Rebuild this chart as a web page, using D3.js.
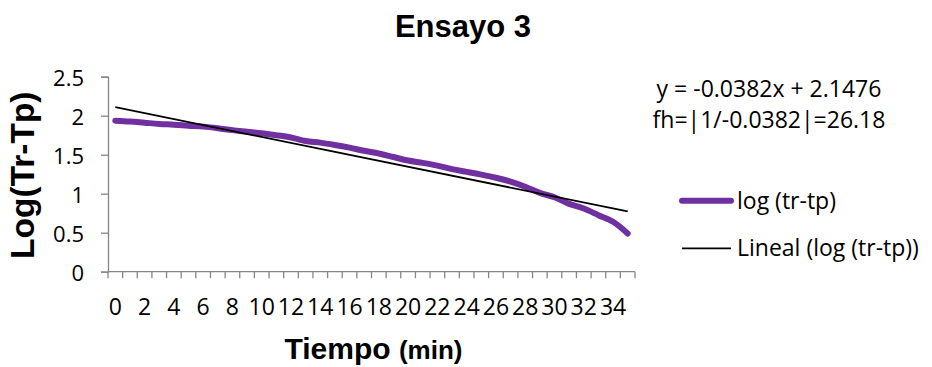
<!DOCTYPE html>
<html>
<head>
<meta charset="utf-8">
<script src="https://cdn.jsdelivr.net/npm/d3@7"></script>
<style>
  html, body { margin: 0; padding: 0; background: #fff; }
  svg { display: block; }
</style>
</head>
<body>
<svg id="chart" width="932" height="367"></svg>
<script>
// Minutes (category axis) and measured log(Tr - Tp)
const minutes = d3.range(0, 36);
const logValues = [
  1.936, 1.925, 1.91, 1.895, 1.885, 1.872, 1.86, 1.84, 1.815, 1.795,
  1.775, 1.75, 1.72, 1.675, 1.655, 1.625, 1.59, 1.55, 1.515, 1.47,
  1.425, 1.395, 1.36, 1.315, 1.28, 1.245, 1.205, 1.155, 1.09, 1.01,
  0.955, 0.87, 0.81, 0.725, 0.64, 0.49
];
// Linear trend fitted on the point index (1-based)
const slope = -0.0382;
const intercept = 2.1476;
const yTicks = [0, 0.5, 1, 1.5, 2, 2.5];
const xTickLabels = d3.range(0, 36, 2);

const titleText = "Ensayo 3";
const yTitle = "Log(Tr-Tp)";
const xTitleMain = "Tiempo";
const xTitleUnit = "(min)";
const equationLines = ["y = -0.0382x + 2.1476", "fh=|1/-0.0382|=26.18"];
const legendItems = ["log (tr-tp)", "Lineal (log (tr-tp))"];

const svg = d3.select("#chart");
const plot = { left: 108, right: 635, top: 76.7, bottom: 271.7 };
const axisColor = "#868686";
const purple = "#7030A0";
const bodyFont = "'Open Sans', sans-serif";
const boldFont = "'Liberation Sans', Arial, sans-serif";

const x = d3.scaleBand().domain(minutes).range([plot.left, plot.right]).padding(0);
const y = d3.scaleLinear().domain([0, 2.5]).range([plot.bottom, plot.top]);
const cx = i => x(i) + x.bandwidth() / 2;

// Title
svg.append("text")
  .attr("x", 463).attr("y", 37)
  .attr("text-anchor", "middle")
  .attr("font-family", boldFont).attr("font-weight", "bold")
  .attr("font-size", 31).attr("fill", "#000")
  .text(titleText);

// Y axis
const yAxis = d3.axisLeft(y).tickValues(yTicks).tickSize(7).tickPadding(17)
  .tickFormat(d => String(d));
const gy = svg.append("g").attr("transform", `translate(${plot.left},0)`).call(yAxis);
gy.select(".domain").attr("stroke", axisColor).attr("stroke-width", 1.3);
gy.selectAll(".tick line").attr("stroke", axisColor).attr("stroke-width", 1.3);
gy.selectAll(".tick text")
  .attr("font-family", bodyFont).attr("font-size", 22).attr("fill", "#000")
  .attr("dy", "0.42em");

// X axis: tick marks at category boundaries, labels every second category
const gx = svg.append("g").attr("transform", `translate(0,${plot.bottom})`);
gx.append("line")
  .attr("x1", plot.left).attr("x2", plot.right)
  .attr("stroke", axisColor).attr("stroke-width", 1.3);
const boundaries = minutes.map(d => x(d)).concat([plot.right]);
gx.selectAll("line.tk").data(boundaries).join("line")
  .attr("class", "tk")
  .attr("x1", d => d).attr("x2", d => d)
  .attr("y1", 0).attr("y2", 6.5)
  .attr("stroke", axisColor).attr("stroke-width", 1.3);
gx.selectAll("text").data(xTickLabels).join("text")
  .attr("x", d => cx(d)).attr("y", 43)
  .attr("text-anchor", "middle")
  .attr("font-family", bodyFont).attr("font-size", 23).attr("fill", "#000")
  .text(d => d);

// Axis titles
svg.append("text")
  .attr("transform", `translate(34,${(plot.top + plot.bottom) / 2 + 1}) rotate(-90)`)
  .attr("text-anchor", "middle")
  .attr("font-family", boldFont).attr("font-weight", "bold")
  .attr("font-size", 33.5).attr("fill", "#000")
  .text(yTitle);

const xt = svg.append("text")
  .attr("x", (plot.left + plot.right) / 2 + 2).attr("y", 359)
  .attr("text-anchor", "middle")
  .attr("font-family", boldFont).attr("font-weight", "bold").attr("fill", "#000");
xt.append("tspan").attr("font-size", 30).text(xTitleMain + " ");
xt.append("tspan").attr("font-size", 26).text(xTitleUnit);

// Data series
const line = d3.line()
  .x((d, i) => cx(minutes[i]))
  .y(d => y(d))
  .curve(d3.curveCatmullRom.alpha(0.5));
svg.append("path")
  .datum(logValues)
  .attr("d", line)
  .attr("fill", "none")
  .attr("stroke", purple).attr("stroke-width", 6)
  .attr("stroke-linecap", "round").attr("stroke-linejoin", "round");

// Linear trendline
const first = minutes[0], last = minutes[minutes.length - 1];
const trend = [first, last].map(m => ({ m, v: slope * (minutes.indexOf(m) + 1) + intercept }));
svg.append("path")
  .datum(trend)
  .attr("d", d3.line().x(d => cx(d.m)).y(d => y(d.v)))
  .attr("fill", "none").attr("stroke", "#000").attr("stroke-width", 1.8);

// Equation label
svg.selectAll("text.eq").data(equationLines).join("text")
  .attr("class", "eq")
  .attr("x", 769).attr("y", (d, i) => 97 + i * 31)
  .attr("text-anchor", "middle")
  .attr("font-family", bodyFont).attr("font-size", 23).attr("fill", "#000")
  .text(d => d);

// Legend
const legend = svg.append("g");
const legendY = [200.7, 248.3];
legendItems.forEach((label, i) => {
  legend.append("line")
    .attr("x1", 682).attr("x2", 731)
    .attr("y1", legendY[i]).attr("y2", legendY[i])
    .attr("stroke", i === 0 ? purple : "#000")
    .attr("stroke-width", i === 0 ? 6 : 1.8)
    .attr("stroke-linecap", i === 0 ? "round" : "butt");
  legend.append("text")
    .attr("x", 737).attr("y", legendY[i] + 8)
    .attr("font-family", bodyFont).attr("font-size", 23).attr("fill", "#000")
    .text(label);
});
</script>
</body>
</html>
